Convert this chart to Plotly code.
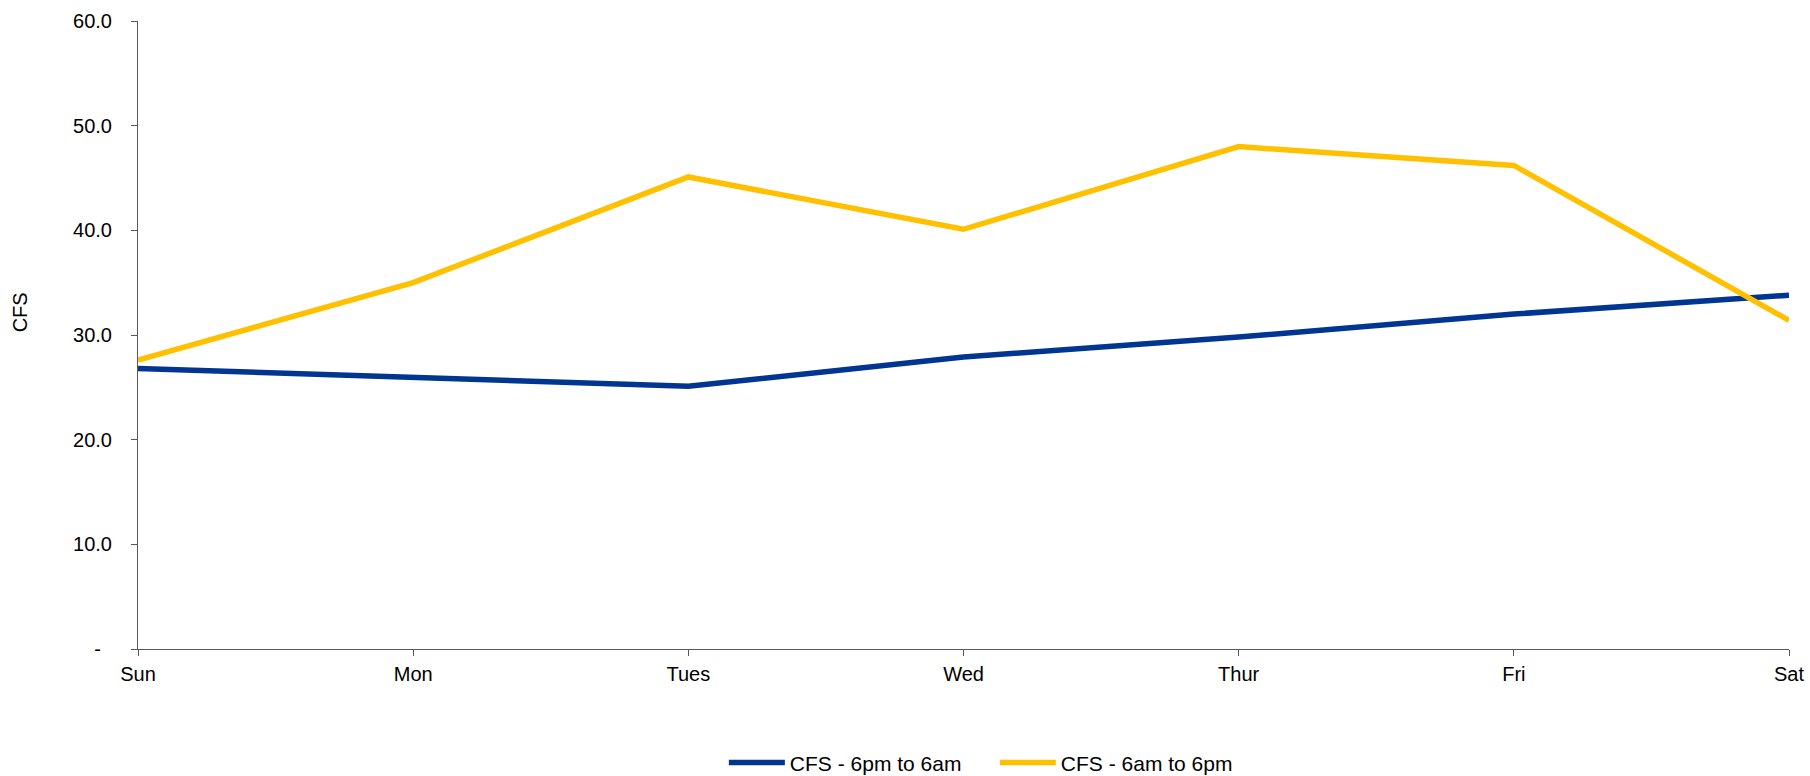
import plotly.graph_objects as go

days = ["Sun", "Mon", "Tues", "Wed", "Thur", "Fri", "Sat"]
night = [26.8, 25.9, 25.1, 27.9, 29.8, 32.0, 33.8]
day = [27.6, 35.0, 45.1, 40.1, 48.0, 46.2, 31.4]
y_ticks = [0, 10, 20, 30, 40, 50, 60]
y_labels = ["-\u00a0\u00a0", "10.0", "20.0", "30.0", "40.0", "50.0", "60.0"]

FONT = "Liberation Sans, Arial, sans-serif"
FS = 20

fig = go.Figure()
fig.add_trace(go.Scatter(x=days, y=night, mode="lines", name="CFS - 6pm to 6am",
                         line=dict(color="#003591", width=5.5)))
fig.add_trace(go.Scatter(x=days, y=day, mode="lines", name="CFS - 6am to 6pm",
                         line=dict(color="#FFC000", width=5.5)))

fig.update_layout(
    width=1810, height=776,
    paper_bgcolor="white", plot_bgcolor="white",
    margin=dict(l=138, r=21, t=21, b=127, autoexpand=False),
    font=dict(family=FONT, size=FS, color="#000000"),
    showlegend=True,
    legend=dict(orientation="h", x=0.519, xanchor="center",
                yref="container", y=0.017, yanchor="middle",
                font=dict(size=21), entrywidth=200, entrywidthmode="pixels",
                itemwidth=56),
    xaxis=dict(type="category", range=[0, 6], showgrid=False, zeroline=False,
               showline=True, linecolor="#595959", linewidth=1,
               ticks="outside", ticklen=6, tickcolor="#595959",
               ticklabelstandoff=1, tickfont=dict(size=FS)),
    yaxis=dict(range=[0, 60], tickvals=y_ticks, ticktext=y_labels,
               showgrid=False, zeroline=False, showline=True,
               linecolor="#595959", linewidth=1, ticks="outside", ticklen=6,
               tickcolor="#595959", ticklabelstandoff=15, tickfont=dict(size=FS)),
    annotations=[dict(text="CFS", textangle=-90, xref="paper", yref="paper",
                      x=-0.0715, y=0.536, xanchor="center", yanchor="middle",
                      showarrow=False, font=dict(size=FS))],
)

fig.write_html("out.html", config={"displayModeBar": False},
               post_script="document.body.style.margin='0';document.body.style.overflow='hidden';")
